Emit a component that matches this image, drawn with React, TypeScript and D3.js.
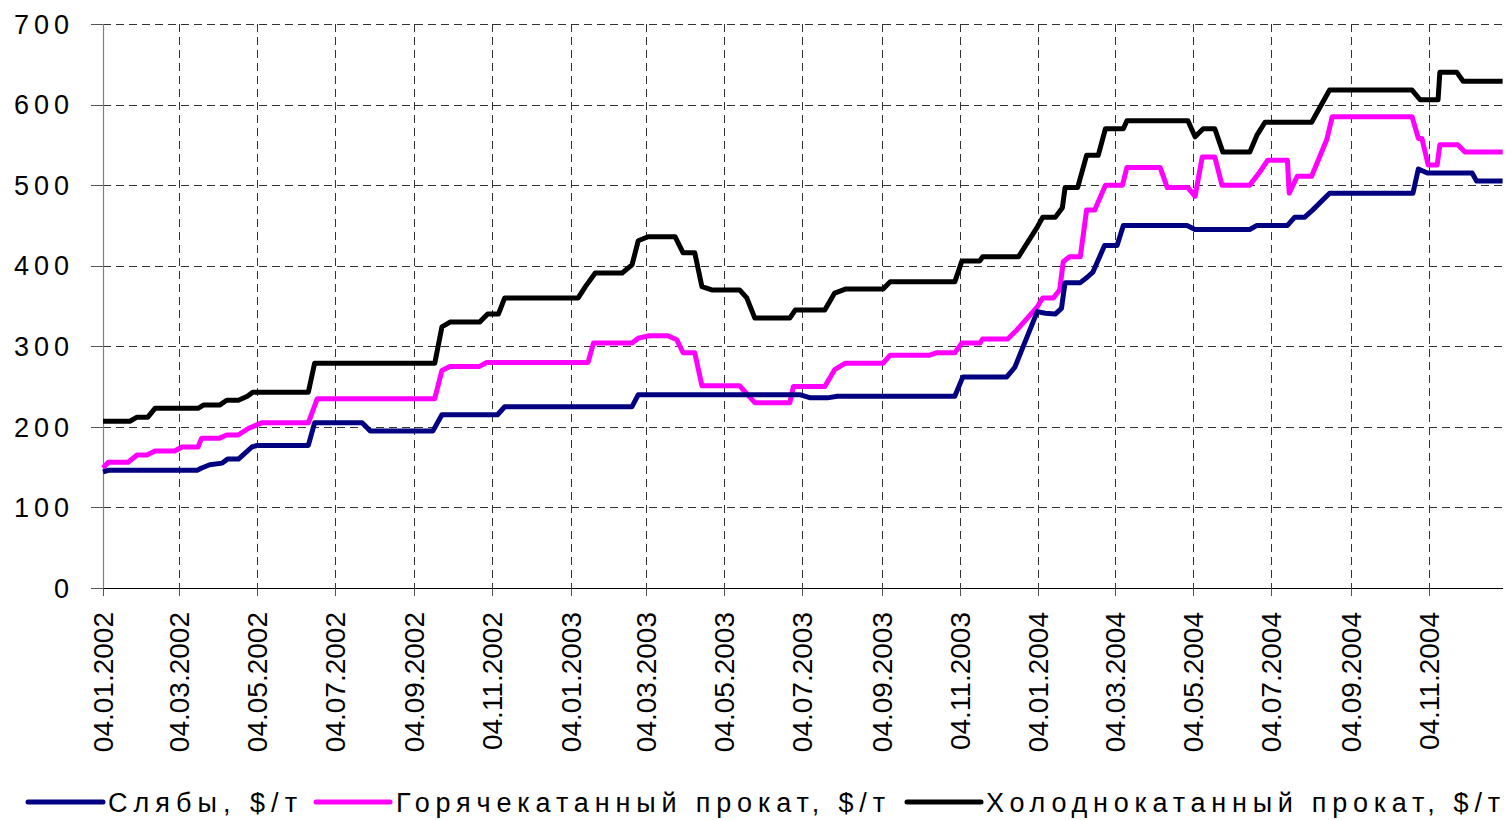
import { useEffect, useRef } from 'react';
import * as d3 from 'd3';

// weeks counted from 04.01.2002, prices in $/t
const slabsWeek = [0, 0.6, 10.5, 11.0, 11.9, 13.3, 13.9, 15.1, 15.6, 16.6, 17.2, 22.9, 23.6, 28.9, 29.8, 36.8, 37.8, 44.0, 44.8, 59.0, 59.7, 77.7, 78.9, 80.8, 81.9, 95.0, 95.9, 100.8, 101.7, 102.6, 104.2, 105.1, 106.2, 106.9, 107.3, 109.0, 109.8, 110.4, 111.7, 113.1, 113.8, 120.9, 121.8, 127.9, 128.7, 132.1, 132.9, 134.0, 134.9, 136.8, 146.1, 146.7, 147.7, 152.7, 153.2, 156.1];
const slabsPrice = [144, 146, 146, 149, 153, 155, 160, 160, 165, 175, 177, 177, 205, 205, 195, 195, 215, 215, 225, 225, 240, 240, 236, 236, 238, 238, 262, 262, 274, 299, 343, 341, 340, 347, 379, 379, 386, 392, 425, 425, 450, 450, 445, 445, 450, 450, 460, 460, 469, 490, 490, 520, 515, 515, 505, 505];

const hotWeek = [0, 0.6, 2.8, 3.8, 4.9, 5.8, 8.0, 8.8, 10.6, 11.0, 13.0, 13.8, 15.1, 16.2, 17.7, 22.9, 23.9, 37.0, 37.8, 38.7, 42.0, 42.8, 54.1, 54.7, 59.0, 59.7, 60.8, 63.0, 64.0, 64.7, 66.0, 66.8, 71.0, 72.7, 76.6, 77.0, 80.5, 81.6, 82.8, 87.0, 87.8, 92.2, 93.0, 95.0, 95.8, 97.8, 98.1, 100.9, 101.9, 104.2, 104.8, 106.0, 106.7, 107.1, 107.8, 109.0, 109.7, 110.6, 111.8, 113.7, 114.2, 117.9, 118.7, 121.0, 121.8, 122.6, 124.0, 124.8, 127.9, 129.0, 129.9, 132.1, 132.3, 133.2, 134.8, 136.5, 137.1, 146.0, 146.7, 147.1, 147.8, 148.8, 149.1, 151.1, 151.9, 156.1];
const hotPrice = [149, 156, 156, 165, 165, 170, 170, 175, 175, 186, 186, 190, 190, 198, 205, 205, 235, 235, 270, 275, 275, 280, 280, 304, 304, 310, 313, 313, 308, 292, 292, 251, 251, 230, 230, 250, 250, 271, 279, 279, 289, 289, 292, 292, 304, 304, 309, 309, 320, 349, 360, 360, 370, 405, 411, 411, 469, 469, 500, 500, 522, 522, 497, 497, 486, 535, 535, 500, 500, 516, 531, 531, 490, 511, 511, 557, 585, 585, 558, 558, 525, 525, 550, 550, 541, 541];

const coldWeek = [0, 3.0, 3.8, 5.0, 5.8, 10.6, 11.2, 13.0, 13.8, 15.1, 16.1, 16.7, 22.9, 23.6, 37.0, 37.8, 38.7, 42.0, 42.9, 44.1, 44.8, 53.0, 53.8, 54.9, 57.9, 59.0, 59.7, 60.8, 63.8, 64.7, 66.0, 66.8, 67.9, 71.0, 71.8, 72.7, 76.6, 77.2, 80.5, 81.6, 82.8, 87.0, 87.8, 95.0, 95.8, 97.8, 98.1, 102.1, 104.2, 104.8, 106.2, 107.0, 107.3, 108.7, 109.7, 111.0, 111.8, 113.8, 114.2, 121.0, 121.8, 122.7, 124.0, 124.9, 127.9, 128.7, 129.6, 134.8, 136.8, 146.0, 146.9, 148.9, 149.1, 151.0, 151.7, 156.1];
const coldPrice = [207, 207, 212, 212, 223, 223, 227, 227, 233, 233, 238, 243, 243, 279, 279, 324, 330, 330, 340, 340, 360, 360, 374, 391, 391, 401, 431, 436, 436, 416, 416, 374, 370, 370, 360, 335, 335, 345, 345, 366, 371, 371, 380, 380, 406, 406, 411, 411, 448, 460, 460, 472, 497, 497, 537, 537, 570, 570, 580, 580, 560, 570, 570, 541, 541, 562, 578, 578, 618, 618, 606, 606, 640, 640, 629, 629];

const seriesNames = ['Слябы, $/т', 'Горячекатанный прокат, $/т', 'Холоднокатанный прокат, $/т'];
const seriesColors = ['#000080', '#ff00ff', '#000000'];
const yTicks = [0, 100, 200, 300, 400, 500, 600, 700];
const xTickLabels = ['04.01.2002', '04.03.2002', '04.05.2002', '04.07.2002', '04.09.2002', '04.11.2002',
  '04.01.2003', '04.03.2003', '04.05.2003', '04.07.2003', '04.09.2003', '04.11.2003',
  '04.01.2004', '04.03.2004', '04.05.2004', '04.07.2004', '04.09.2004', '04.11.2004'];

const START = new Date(2002, 0, 4);
const END = new Date(2005, 0, 1);
const FONT = 'Arial, "Liberation Sans", sans-serif';

function parseDmy(s: string) {
  const [d, m, y] = s.split('.').map(Number);
  return new Date(y, m - 1, d);
}

export default function App() {
  const svgRef = useRef<SVGSVGElement>(null);

  useEffect(() => {
    const width = 1506;
    const height = 820;
    const svg = d3.select(svgRef.current);
    svg.selectAll('*').remove();
    svg.attr('width', width).attr('height', height);

    const x = d3.scaleTime().domain([START, END]).range([103, 1503]);
    const y = d3.scaleLinear().domain([0, 700]).range([588, 24]);
    const weekDate = (w: number) => new Date(START.getTime() + w * 7 * 864e5);

    const g = svg.append('g');

    // grid
    g.selectAll('line.hgrid')
      .data(yTicks.filter(v => v > 0))
      .enter().append('line')
      .attr('x1', 103).attr('x2', 1503)
      .attr('y1', d => Math.round(y(d)) + 0.5).attr('y2', d => Math.round(y(d)) + 0.5)
      .attr('stroke', '#333').attr('stroke-width', 1)
      .attr('stroke-dasharray', '8,5');

    const xDates = xTickLabels.map(parseDmy);
    g.selectAll('line.vgrid')
      .data(xDates.slice(1))
      .enter().append('line')
      .attr('x1', d => Math.round(x(d)) + 0.5).attr('x2', d => Math.round(x(d)) + 0.5)
      .attr('y1', 24).attr('y2', 588)
      .attr('stroke', '#333').attr('stroke-width', 1)
      .attr('stroke-dasharray', '8,5');

    // axes
    g.append('line')
      .attr('x1', 103.5).attr('x2', 103.5).attr('y1', 24).attr('y2', 589)
      .attr('stroke', '#808080').attr('stroke-width', 1.2);
    g.append('line')
      .attr('x1', 91).attr('x2', 1503).attr('y1', 588.5).attr('y2', 588.5)
      .attr('stroke', '#000').attr('stroke-width', 1);

    g.selectAll('line.ytick')
      .data(yTicks)
      .enter().append('line')
      .attr('x1', 91).attr('x2', 103)
      .attr('y1', d => Math.round(y(d)) + 0.5).attr('y2', d => Math.round(y(d)) + 0.5)
      .attr('stroke', '#555');

    g.selectAll('text.ylab')
      .data(yTicks)
      .enter().append('text')
      .attr('x', 74)
      .attr('y', d => y(d))
      .attr('dy', '0.36em')
      .attr('text-anchor', 'end')
      .attr('font-family', FONT)
      .attr('font-size', 27)
      .attr('letter-spacing', 5)
      .attr('fill', '#000')
      .text(d => d);

    g.selectAll('line.xtick')
      .data(xDates)
      .enter().append('line')
      .attr('x1', d => Math.round(x(d)) + 0.5).attr('x2', d => Math.round(x(d)) + 0.5)
      .attr('y1', 588).attr('y2', 596)
      .attr('stroke', '#555');

    g.selectAll('text.xlab')
      .data(xTickLabels)
      .enter().append('text')
      .attr('transform', d => `translate(${x(parseDmy(d))},612) rotate(-90)`)
      .attr('dy', '0.36em')
      .attr('text-anchor', 'end')
      .attr('font-family', FONT)
      .attr('font-size', 28)
      .attr('fill', '#000')
      .text(d => d);

    // lines
    const weeks = [slabsWeek, hotWeek, coldWeek];
    const prices = [slabsPrice, hotPrice, coldPrice];
    const line = d3.line<[number, number]>()
      .x(d => x(weekDate(d[0])))
      .y(d => y(d[1]));

    [2, 1, 0].forEach(i => {
      const pts = weeks[i].map((w, k) => [w, prices[i][k]] as [number, number]);
      g.append('path')
        .datum(pts)
        .attr('d', line)
        .attr('fill', 'none')
        .attr('stroke', seriesColors[i])
        .attr('stroke-width', 5)
        .attr('stroke-linejoin', 'round');
    });

    // legend
    const legendLines = [[28, 103], [316, 390], [907, 981]];
    const legendText = [[108, 189], [396, 489], [986, 514]];
    seriesNames.forEach((name, i) => {
      g.append('line')
        .attr('x1', legendLines[i][0]).attr('x2', legendLines[i][1])
        .attr('y1', 802).attr('y2', 802)
        .attr('stroke', seriesColors[i])
        .attr('stroke-width', 5)
        .attr('stroke-linecap', 'round');
      g.append('text')
        .attr('x', legendText[i][0])
        .attr('y', 812)
        .attr('font-family', FONT)
        .attr('font-size', 27)
        .attr('textLength', legendText[i][1])
        .attr('lengthAdjust', 'spacing')
        .attr('fill', '#000')
        .text(name);
    });
  }, []);

  return (
    <svg ref={svgRef} style={{ position: 'absolute', left: 0, top: 0, background: '#fff' }} />
  );
}
